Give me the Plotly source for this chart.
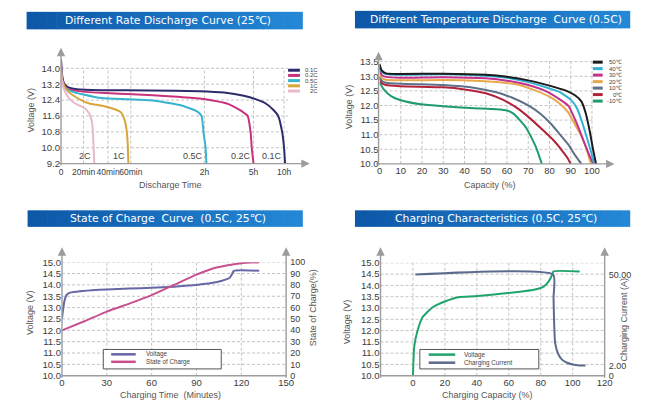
import numpy as np
import plotly.graph_objects as go

W, H = 651, 407
FONT = "Liberation Sans, Arial, sans-serif"
TFONT = "DejaVu Sans, Verdana, sans-serif"

# ---------------- Panel 1 : Different Rate Discharge Curve ----------------
# x is a non-uniform display scale of discharge time (10h = 100)
TIME_TICK_LABELS = ["0", "20min", "40min", "60min", "2h", "5h", "10h"]
TIME_TICK_POS = [0, 10.1, 21.1, 31.3, 64.3, 86.3, 100]
RATE_NAMES = ["0.1C", "0.2C", "0.5C", "1C", "2C"]
RATE_COLORS = ["#2b2c6e", "#c8327c", "#35b3cf", "#d9a53a", "#eab8cc"]
rate_01c_x = [0, 0.44, 1.32, 3.08, 7.05, 18.06, 40.09, 62.11, 73.13, 81.94, 87.22, 91.63, 95.15, 97.36, 99.12, 100, 100.44]
rate_01c_y = [14.45, 13.7, 13.25, 13.05, 12.95, 12.9, 12.88, 12.85, 12.78, 12.62, 12.45, 12.24, 11.91, 11.6, 10.8, 10.0, 9.2]
rate_02c_x = [0, 0.44, 1.32, 3.08, 8, 20, 32.2, 50, 62.1, 68, 74, 77, 81, 83.7, 85.0, 85.5, 86.3]
rate_02c_y = [14.4, 13.55, 13.15, 12.95, 12.85, 12.75, 12.69, 12.58, 12.48, 12.38, 12.24, 12.1, 11.84, 11.6, 10.77, 10.0, 9.2]
rate_05c_x = [0, 0.44, 1.32, 3.08, 5.7, 10, 18.1, 30, 40.1, 53.3, 60.8, 63, 63.9, 64.8, 65.2]
rate_05c_y = [14.2, 13.4, 13.05, 12.92, 12.8, 12.68, 12.5, 12.44, 12.39, 12.15, 11.84, 11.6, 10.77, 10.0, 9.2]
rate_1c_x = [0, 0.44, 1.76, 3.5, 6.17, 9, 12.33, 19.4, 23.8, 26.9, 28.5, 29.4, 29.9, 30.2]
rate_1c_y = [14.0, 13.45, 13.05, 12.8, 12.58, 12.4, 12.24, 12.09, 11.95, 11.78, 11.4, 10.9, 10.2, 9.2]
rate_2c_x = [0, 0.44, 1.32, 3.52, 6.17, 10.6, 12.8, 14.0, 14.5, 14.9]
rate_2c_y = [13.8, 13.35, 12.95, 12.5, 12.24, 11.99, 11.7, 11.2, 10.3, 9.2]
P1_YTICKS = [9.2, 10.0, 10.8, 11.6, 12.4, 13.2, 14.0]

# ---------------- Panel 2 : Different Temperature Discharge Curve ----------------
TEMP_NAMES = ["50\u2103", "40\u2103", "30\u2103", "20\u2103", "10\u2103", "0\u2103", "-10\u2103"]
TEMP_COLORS = ["#1b1b1b", "#2fb0d4", "#c2318c", "#e9a94a", "#5f7189", "#b3213a", "#1f9b6c"]
t50_x = [0, 1, 3, 10, 30, 50, 60, 70, 80, 88, 92, 95, 97, 99, 100.5, 101.9]
t50_y = [13.42, 13.2, 13.1, 13.08, 13.09, 13.05, 12.98, 12.86, 12.68, 12.5, 12.35, 12.14, 11.75, 11.1, 10.5, 10.0]
t40_x = [0, 1, 3, 10, 30, 50, 60, 70, 80, 85, 90, 93, 95.5, 98, 100, 101]
t40_y = [13.35, 13.15, 13.08, 13.05, 13.07, 13.02, 12.95, 12.8, 12.58, 12.45, 12.2, 11.9, 11.4, 10.8, 10.3, 10.0]
t30_x = [0, 1, 3, 10, 30, 50, 60, 70, 78, 85, 89, 92.7, 96.6, 99, 100.6]
t30_y = [13.3, 13.05, 12.98, 12.95, 12.97, 12.93, 12.85, 12.7, 12.5, 12.2, 11.98, 11.41, 10.69, 10.25, 10.0]
t20_x = [0, 1, 3, 10, 30, 45, 55, 65, 72, 80, 85, 89, 92, 95, 97.5, 99.5]
t20_y = [13.2, 12.95, 12.88, 12.86, 12.87, 12.85, 12.8, 12.72, 12.55, 12.3, 12.05, 11.75, 11.35, 10.95, 10.5, 10.0]
t10_x = [0, 1, 3, 10, 30, 45, 55, 62, 70, 76, 81, 85, 89, 92, 95]
t10_y = [13.0, 12.85, 12.78, 12.74, 12.7, 12.6, 12.45, 12.28, 12.0, 11.7, 11.35, 11.0, 10.65, 10.3, 10.0]
t0_x = [0, 1, 3, 10, 30, 40, 50, 58, 65, 71, 77, 82, 86, 88.5, 90]
t0_y = [12.95, 12.78, 12.7, 12.66, 12.62, 12.55, 12.42, 12.2, 11.9, 11.55, 11.15, 10.8, 10.45, 10.2, 10.0]
tm10_x = [0, 2, 5.6, 10, 19.4, 30, 42.6, 55, 60, 63, 66, 69, 71.5, 73.6, 75, 76.4]
tm10_y = [12.8, 12.55, 12.31, 12.18, 12.04, 11.97, 11.91, 11.87, 11.83, 11.72, 11.5, 11.24, 10.9, 10.58, 10.3, 10.0]
CAP_TICKS = [0, 10, 20, 30, 40, 50, 60, 70, 80, 90, 100]
P2_YTICKS = [10.0, 10.5, 11.0, 11.5, 12.0, 12.5, 13.0, 13.5]

# ---------------- Panel 3 : State of Charge Curve ----------------
SOC_NAMES = ["Voltage", "State of Charge"]
SOC_COLORS = ["#6767a6", "#c9508e"]
soc_v_t = [0, 0.5, 1.5, 3, 5, 10, 20, 30, 45, 60, 75, 90, 100, 107, 112, 114, 115, 132]
soc_v_y = [12.5, 12.8, 13.25, 13.55, 13.65, 13.7, 13.76, 13.8, 13.84, 13.87, 13.92, 14.0, 14.08, 14.18, 14.3, 14.5, 14.62, 14.62]
soc_t = [0, 15, 30, 45, 60, 75, 90, 100, 110, 120, 132]
soc_pct = [40, 48, 56.5, 63.5, 71, 80, 89, 94, 97, 99, 100]
TIME_TICKS = [0, 30, 60, 90, 120, 150]
V_TICKS = [10.0, 10.5, 11.0, 11.5, 12.0, 12.5, 13.0, 13.5, 14.0, 14.5, 15.0]
SOC_TICKS = [0, 10, 20, 30, 40, 50, 60, 70, 80, 90, 100]

# ---------------- Panel 4 : Charging Characteristics ----------------
CHG_NAMES = ["Voltage", "Charging Current"]
CHG_COLORS = ["#21a36c", "#5c6b8c"]
chg_v_x = [0, 0.8, 2.9, 6, 12.1, 20.3, 28.5, 38.8, 59.3, 75.7, 81.8, 84.9, 87, 88, 104.4]
chg_v_y = [10.0, 11.29, 12.0, 12.59, 13.02, 13.3, 13.48, 13.52, 13.66, 13.81, 13.95, 14.17, 14.45, 14.62, 14.62]
chg_i_x = [1.5, 87.8, 88, 88.3, 89, 91, 93.5, 96.5, 100, 104, 108]
chg_i_a = [50, 50, 38, 27, 14, 8, 5, 3.5, 2.6, 2.1, 2.0]
CUR_TICK_VALUES = [0, 2, 50]
CUR_TICK_TEXT = ["0", "2.00", "50.00"]
CUR_AXIS_POS = [10.0, 10.45, 14.48]   # where the current ticks sit on the voltage scale
CHGCAP_TICKS = [0, 20, 40, 60, 80, 100, 120]

TITLES = ["Different Rate Discharge Curve (25\u2103)",
          "Different Temperature Discharge  Curve (0.5C)",
          "State of Charge  Curve  (0.5C, 25\u2103)",
          "Charging Characteristics (0.5C, 25\u2103)"]


def px(x):
    return x / W


def py(y):
    return 1 - y / H


fig = go.Figure()
LW = 2
SM = dict(shape="spline", smoothing=0.5)

rate_x = [rate_01c_x, rate_02c_x, rate_05c_x, rate_1c_x, rate_2c_x]
rate_y = [rate_01c_y, rate_02c_y, rate_05c_y, rate_1c_y, rate_2c_y]
for n, c, xs, ys in zip(RATE_NAMES, RATE_COLORS, rate_x, rate_y):
    fig.add_trace(go.Scatter(x=xs, y=ys, name=n, mode="lines", line=dict(color=c, width=LW, **SM),
                             xaxis="x", yaxis="y", showlegend=False))

temp_x = [t50_x, t40_x, t30_x, t20_x, t10_x, t0_x, tm10_x]
temp_y = [t50_y, t40_y, t30_y, t20_y, t10_y, t0_y, tm10_y]
for n, c, xs, ys in list(zip(TEMP_NAMES, TEMP_COLORS, temp_x, temp_y))[::-1]:
    fig.add_trace(go.Scatter(x=xs, y=ys, name=n, mode="lines", line=dict(color=c, width=LW, **SM),
                             xaxis="x2", yaxis="y2", showlegend=False))

fig.add_trace(go.Scatter(x=soc_t, y=soc_pct, name=SOC_NAMES[1], mode="lines",
                         line=dict(color=SOC_COLORS[1], width=LW, **SM), xaxis="x3", yaxis="y4", showlegend=False))
fig.add_trace(go.Scatter(x=soc_v_t, y=soc_v_y, name=SOC_NAMES[0], mode="lines",
                         line=dict(color=SOC_COLORS[0], width=LW, **SM), xaxis="x3", yaxis="y3", showlegend=False))

chg_i_pos = np.interp(chg_i_a, CUR_TICK_VALUES, CUR_AXIS_POS)
fig.add_trace(go.Scatter(x=chg_i_x, y=chg_i_pos, name=CHG_NAMES[1], mode="lines",
                         line=dict(color=CHG_COLORS[1], width=LW, **SM), xaxis="x4", yaxis="y6", showlegend=False,
                         customdata=chg_i_a, hovertemplate="%{x}%%, %{customdata} A<extra></extra>"))
fig.add_trace(go.Scatter(x=chg_v_x, y=chg_v_y, name=CHG_NAMES[0], mode="lines",
                         line=dict(color=CHG_COLORS[0], width=LW, **SM), xaxis="x4", yaxis="y5", showlegend=False))

TF = dict(family=FONT, size=9.5, color="#3c3c3c")
AX = dict(showgrid=False, zeroline=False, showline=False, ticks="", fixedrange=True, tickangle=0)

fig.update_layout(
    width=W, height=H, margin=dict(l=0, r=0, t=0, b=0),
    paper_bgcolor="white", plot_bgcolor="rgba(0,0,0,0)", showlegend=False,
    font=dict(family=FONT),
    xaxis=dict(domain=[px(59), px(312)], range=[0, 111.5], tickvals=TIME_TICK_POS, ticktext=TIME_TICK_LABELS,
               anchor="y", tickfont=dict(family=FONT, size=8.5, color="#3c3c3c"), ticklabelstandoff=2, **AX),
    yaxis=dict(domain=[py(162), py(43)], range=[9.2, 15.03], tickvals=P1_YTICKS,
               ticktext=[f"{v:.1f}" for v in P1_YTICKS], anchor="x", tickfont=TF, **AX),
    xaxis2=dict(domain=[px(383), px(622)], range=[0, 110.6], tickvals=CAP_TICKS, anchor="y2", tickfont=TF, **AX),
    yaxis2=dict(domain=[py(162.3), py(47)], range=[10.0, 13.84], tickvals=P2_YTICKS,
                ticktext=[f"{v:.1f}" for v in P2_YTICKS], anchor="x2", tickfont=TF, **AX),
    xaxis3=dict(domain=[px(60), px(288)], range=[0, 150], tickvals=TIME_TICKS, anchor="y3", tickfont=TF, **AX),
    yaxis3=dict(domain=[py(380), py(263.3)], range=[10, 15], tickvals=V_TICKS,
                ticktext=[f"{v:.1f}" for v in V_TICKS], anchor="x3", tickfont=TF, **AX),
    yaxis4=dict(overlaying="y3", side="right", range=[0, 100], tickvals=SOC_TICKS, anchor="x3",
                tickfont=dict(family=FONT, size=9, color="#3c3c3c"), ticklabelstandoff=3, **AX),
    xaxis4=dict(domain=[px(384), px(612)], range=[-20.3, 120], tickvals=CHGCAP_TICKS, anchor="y5", tickfont=TF, **AX),
    yaxis5=dict(domain=[py(380), py(264)], range=[10, 15], tickvals=V_TICKS,
                ticktext=[f"{v:.1f}" for v in V_TICKS], anchor="x4", tickfont=TF, **AX),
    yaxis6=dict(overlaying="y5", side="right", range=[10, 15], tickvals=CUR_AXIS_POS,
                ticktext=CUR_TICK_TEXT, anchor="x4", tickfont=dict(family=FONT, size=9, color="#3c3c3c"),
                ticklabelstandoff=3, **AX),
)

shapes = []
annotations = []
GRID = dict(color="#c4c4c4", width=1, dash="3px,2px")


def hgrid(xref, yref, ys, x0, x1):
    for v in ys:
        shapes.append(dict(type="line", xref=xref, yref=yref, x0=x0, x1=x1, y0=v, y1=v, line=GRID, layer="below"))


def vgrid(xref, yref, xs, y0, y1):
    for v in xs:
        shapes.append(dict(type="line", xref=xref, yref=yref, x0=v, x1=v, y0=y0, y1=y1, line=GRID, layer="below"))


hgrid("x", "y", P1_YTICKS[1:], 0, 101.8)
vgrid("x", "y", TIME_TICK_POS[1:], 9.2, 14.0)
hgrid("x2", "y2", P2_YTICKS[1:], 0, 101)
vgrid("x2", "y2", CAP_TICKS[1:], 10.0, 13.5)
hgrid("x3", "y3", V_TICKS[1:], 0, 150)
vgrid("x3", "y3", TIME_TICKS[1:-1], 10, 15)
hgrid("x4", "y5", V_TICKS[1:], -20.3, 120)
vgrid("x4", "y5", CHGCAP_TICKS[:-1], 10, 15)

AXC = "#9c9c9c"


def axis_line(x0, y0, x1, y1, arrow=True):
    # x0,y0 -> x1,y1 in pixels; arrow head at x1,y1
    if arrow:
        annotations.append(dict(x=px(x1), y=py(y1), xref="paper", yref="paper", ax=x0 - x1, ay=y0 - y1,
                                axref="pixel", ayref="pixel", text="", showarrow=True, arrowhead=2,
                                arrowsize=1.2, arrowwidth=1.4, arrowcolor=AXC, standoff=0, startstandoff=0))
    else:
        shapes.append(dict(type="line", xref="paper", yref="paper", x0=px(x0), y0=py(y0), x1=px(x1), y1=py(y1),
                           line=dict(color=AXC, width=1.4)))


axis_line(59, 162, 59, 43)
axis_line(59, 162, 312, 162)
axis_line(382, 162.3, 382, 47)
axis_line(382, 162.3, 622, 162.3)
axis_line(60, 380, 60, 248)
axis_line(288, 380, 288, 248)
axis_line(60, 380, 288, 380, arrow=False)
axis_line(384, 380, 384, 248)
axis_line(612, 380, 612, 248)
axis_line(384, 380, 612, 380, arrow=False)


# banners with a horizontal gradient
def banner(x0, x1, y0, y1, text):
    n = 28
    c0 = np.array([14, 88, 168])
    c1 = np.array([36, 136, 214])
    for i in range(n):
        f = i / (n - 1)
        c = (c0 + (c1 - c0) * f).astype(int)
        xa = x0 + (x1 - x0) * i / n
        xb = x0 + (x1 - x0) * (i + 1) / n + 0.6
        shapes.append(dict(type="rect", xref="paper", yref="paper", x0=px(xa), x1=px(min(xb, x1)),
                           y0=py(y1), y1=py(y0), fillcolor=f"rgb({c[0]},{c[1]},{c[2]})", line=dict(width=0)))
    annotations.append(dict(x=px((x0 + x1) / 2 + 3), y=py((y0 + y1) / 2), xref="paper", yref="paper", text=text,
                            showarrow=False, font=dict(family=TFONT, size=10.8, color="white"),
                            xanchor="center", yanchor="middle"))


banner(24, 305, 6, 24, TITLES[0])
banner(358, 638, 5, 23, TITLES[1])
banner(25, 305, 210, 227, TITLES[2])
banner(358, 638, 210, 227, TITLES[3])


def label(x, y, text, size=9, angle=0, color="#555555", xanchor="center"):
    annotations.append(dict(x=px(x), y=py(y), xref="paper", yref="paper", text=text, showarrow=False,
                            textangle=angle, font=dict(family=FONT, size=size, color=color),
                            xanchor=xanchor, yanchor="middle"))


label(29, 107, "Voltage (V)", angle=-90)
label(170, 184, "Discharge Time")
label(352, 104, "Voltage (V)", angle=-90)
label(495, 184, "Capacity (%)")
label(28, 315, "Voltage (V)", angle=-90)
label(315, 310, "State of Charge(%)", angle=-90)
label(170, 400, "Charging Time  (Minutes)")
label(350, 325, "Voltage (V)", angle=-90)
label(632, 322, "Charging Current (A)", angle=-90)
label(493, 400, "Charging Capacity (%)")

# curve end labels in panel 1
for n, xs in zip(RATE_NAMES, rate_x):
    annotations.append(dict(x=xs[-1], y=9.2, xref="x", yref="y", text=n, showarrow=False, xanchor="right",
                            yanchor="bottom", xshift=-1, yshift=1,
                            font=dict(family=FONT, size=9, color="#444444")))


# compact legends drawn by hand
def legend_line(x0, x1, y, color, width=3):
    shapes.append(dict(type="line", xref="paper", yref="paper", x0=px(x0), x1=px(x1), y0=py(y), y1=py(y),
                       line=dict(color=color, width=width)))


for i, (n, c) in enumerate(zip(RATE_NAMES, RATE_COLORS)):
    y = 66 + 5.35 * i
    legend_line(290, 302, y, c)
    label(322, y, n, size=6, color="#444444", xanchor="right")

for i, (n, c) in enumerate(zip(TEMP_NAMES, TEMP_COLORS)):
    y = 57.7 + 6.67 * i
    legend_line(600, 610, y, c)
    label(632, y, n, size=6, color="#444444", xanchor="right")

shapes.append(dict(type="rect", xref="paper", yref="paper", x0=px(102), x1=px(222), y0=py(373), y1=py(353),
                   line=dict(color="#555555", width=1), fillcolor="white"))
for i, (n, c) in enumerate(zip(SOC_NAMES, SOC_COLORS)):
    y = 358 + 7.7 * i
    legend_line(110, 135, y, c, 2.5)
    label(143, y, n, size=6.3, color="#444444", xanchor="left")

shapes.append(dict(type="rect", xref="paper", yref="paper", x0=px(424), x1=px(545), y0=py(373), y1=py(353),
                   line=dict(color="#555555", width=1), fillcolor="white"))
for i, (n, c) in enumerate(zip(CHG_NAMES, CHG_COLORS)):
    y = 358.3 + 8.3 * i
    legend_line(433, 460, y, c, 2.5)
    label(467, y, n, size=6.3, color="#444444", xanchor="left")

fig.update_layout(shapes=shapes, annotations=annotations)
fig.write_html("out.html", config={"displayModeBar": False, "staticPlot": True},
               post_script="document.body.style.margin='0';document.body.style.padding='0';"
                           "document.body.style.overflow='hidden';")
